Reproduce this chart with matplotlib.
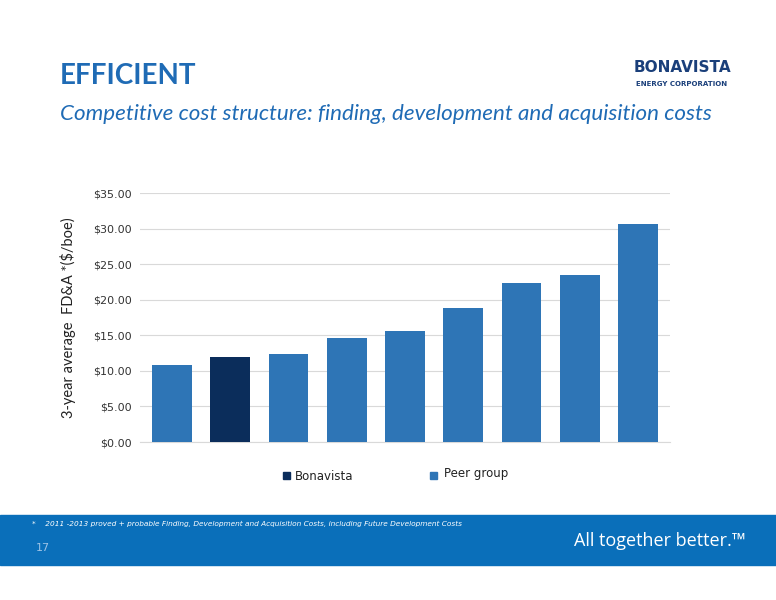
import matplotlib
matplotlib.use("Agg")
import matplotlib.pyplot as plt
from matplotlib.patches import Rectangle

companies = ["Bonavista"] + [f"Peer {i}" for i in range(1, 9)]
fdna = [10.8, 12.0, 12.4, 14.6, 15.6, 18.9, 22.4, 23.5, 30.7]
is_bonavista = [False, True, False, False, False, False, False, False, False]
yticks = [0, 5, 10, 15, 20, 25, 30, 35]

W, H = 776, 600
fig = plt.figure(figsize=(W/100, H/100), dpi=100)
fig.patch.set_facecolor("white")

dark = "#0b2d5b"
peer = "#2e75b6"
title_c = "#1f6bb5"

fig.text(60/W, 1-76/H, "EFFICIENT", fontsize=20, fontweight="bold", color=title_c, va="center", family="Lato")
fig.text(60/W, 1-114/H, "Competitive cost structure: finding, development and acquisition costs",
         fontsize=16.1, style="italic", color=title_c, va="center", family="Lato")
fig.text(682/W, 1-68/H, "BONAVISTA", fontsize=11, fontweight="bold", color="#1a3f7a", ha="center", va="center", family="Liberation Sans Narrow")
fig.text(682/W, 1-84/H, "ENERGY CORPORATION", fontsize=5, fontweight="bold", color="#1a3f7a", ha="center", va="center")

ax = fig.add_axes([140/W, 1-442/H, 530/W, 249/H])
x = range(len(fdna))
colors = [dark if b else peer for b in is_bonavista]
ax.bar(x, fdna, width=0.68, color=colors, zorder=3)
ax.set_ylim(0, 35)
ax.set_xlim(-0.55, len(fdna)-0.45)
ax.set_yticks(yticks)
ax.set_yticklabels([f"${v:.2f}" for v in yticks], fontsize=8, color="#333333")
ax.set_xticks([])
ax.grid(axis="y", color="#d9d9d9", lw=0.8, zorder=0)
for s in ["top", "right", "left"]:
    ax.spines[s].set_visible(False)
ax.spines["bottom"].set_color("#d9d9d9")
ax.tick_params(axis="y", length=0, pad=6)
ax.set_ylabel("3-year average  FD&A *($/boe)", fontsize=10.5, color="#222222", labelpad=12, family="Lato")

# legend
fig.patches.append(Rectangle((283/W, 1-479/H), 7/W, 7/H, transform=fig.transFigure, color=dark, figure=fig))
fig.text(295/W, 1-476/H, "Bonavista", fontsize=8.5, va="center", color="#222222")
fig.patches.append(Rectangle((430/W, 1-479/H), 7/W, 7/H, transform=fig.transFigure, color=peer, figure=fig))
fig.text(444/W, 1-474/H, "Peer group", fontsize=8.5, va="center", color="#222222")

# footer band
fig.patches.append(Rectangle((0, 1-565/H), 1, 50/H, transform=fig.transFigure, color="#0a6fba", figure=fig))
fig.text(32/W, 1-524/H, "*    2011 -2013 proved + probable Finding, Development and Acquisition Costs, including Future Development Costs",
         fontsize=5.3, style="italic", color="white", va="center")
fig.text(36/W, 1-548/H, "17", fontsize=8, color="#9ec3e6", va="center")
fig.text(574/W, 1-541/H, "All together better.\u2122", fontsize=13, color="white", va="center", family="Open Sans")

fig.savefig("out.png", dpi=100)
